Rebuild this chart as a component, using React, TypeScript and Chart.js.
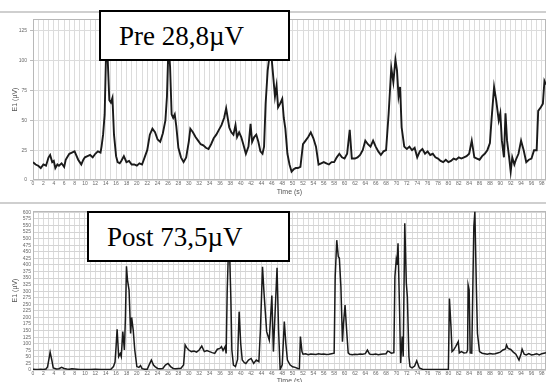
import React, { useEffect, useRef } from "react";
import { Chart, registerables } from "chart.js";

Chart.register(...registerables);

// ---------- Data ----------
// Pre recording: time (s) and E1 amplitude (µV)
const preTime = [
  0, 0.5, 1, 1.5, 2, 2.5, 3, 3.3, 3.7, 4, 4.3, 4.7, 5, 5.5, 6, 6.3, 6.7, 7, 7.5, 8,
  8.3, 8.7, 9, 9.3, 9.7, 10, 10.5, 11, 11.5, 12, 12.5, 13, 13.2, 13.5, 13.8, 14.1, 14.4, 14.7, 15, 15.3,
  15.6, 16, 16.3, 16.7, 17, 17.5, 18, 18.5, 19, 19.5, 20, 20.5, 21, 21.5, 22, 22.5, 23, 23.5, 24, 24.5,
  25, 25.5, 25.8, 26.1, 26.4, 26.7, 27, 27.3, 27.6, 28, 28.5, 29, 29.5, 30, 30.3, 30.8, 31.3, 31.8, 32.3, 32.8,
  33.3, 33.8, 34.3, 34.8, 35.3, 35.8, 36.3, 36.8, 37.2, 37.5, 37.8, 38.2, 38.6, 39, 39.3, 39.7, 40.1, 40.5, 41, 41.5,
  41.9, 42.2, 42.6, 43, 43.4, 43.8, 44.2, 44.5, 44.8, 45.2, 45.6, 46, 46.3, 46.6, 46.9, 47.2, 47.6, 48, 48.3, 48.6,
  49, 49.4, 49.8, 50.2, 50.6, 51, 51.5, 52, 52.5, 53, 53.5, 54, 54.5, 55, 55.5, 56, 56.5, 57, 57.5, 58,
  58.5, 59, 59.5, 60, 60.5, 61, 61.4, 62, 62.5, 63, 63.5, 64, 64.5, 65, 65.5, 66, 66.5, 67, 67.5, 68,
  68.5, 69, 69.4, 69.8, 70.1, 70.4, 70.7, 71, 71.5, 72, 72.5, 73, 73.5, 74, 74.5, 75, 75.5, 76, 76.5, 77,
  77.5, 78, 78.5, 79, 79.5, 80, 80.5, 81, 81.5, 82, 82.5, 83, 83.5, 84, 84.5, 85, 85.5, 86, 86.5, 87,
  87.5, 88, 88.3, 88.8, 89.2, 89.7, 90, 90.3, 90.7, 91, 91.3, 91.7, 92, 92.3, 92.7, 93, 93.5, 94, 94.5, 95,
  95.5, 96, 96.5, 97, 97.3, 97.8, 98.2, 98.5, 98.8,
];
const preValue = [
  15, 13, 12, 10, 13, 12, 19, 21, 15, 16, 10, 13, 12, 14, 11, 17, 20, 22, 23, 24,
  21, 17, 15, 13, 17, 19, 20, 21, 19, 22, 24, 23, 28, 38, 55, 112, 100, 67, 65, 69,
  38, 20, 15, 14, 16, 20, 15, 16, 13, 13, 12, 14, 13, 19, 25, 38, 43, 40, 34, 32,
  39, 50, 70, 115, 95, 55, 52, 55, 45, 27, 19, 15, 19, 32, 43, 40, 36, 33, 30, 29,
  27, 26, 30, 35, 38, 42, 46, 52, 60, 52, 44, 40, 38, 46, 36, 40, 36, 30, 22, 28,
  47, 32, 36, 38, 32, 24, 22, 28, 64, 92, 106, 100, 85, 70, 79, 61, 64, 68, 52, 43,
  22, 13, 7, 9, 10, 10, 11, 30, 33, 36, 40, 35, 28, 13, 14, 15, 14, 13, 15, 15,
  19, 22, 19, 18, 22, 42, 18, 18, 19, 21, 25, 33, 30, 28, 33, 28, 24, 21, 24, 25,
  56, 94, 82, 101, 92, 70, 78, 44, 28, 26, 28, 25, 27, 19, 24, 26, 22, 24, 21, 22,
  19, 18, 16, 15, 17, 15, 16, 18, 17, 19, 18, 19, 20, 22, 33, 19, 18, 17, 20, 22,
  25, 31, 50, 78, 67, 50, 56, 33, 19, 56, 33, 19, 7, 19, 13, 17, 22, 33, 25, 15,
  17, 18, 25, 25, 58, 61, 64, 83, 80,
];

// Post recording: time (s) and E1 amplitude (µV)
const postTime = [
  0, 0.5, 1, 1.5, 2, 2.5, 2.8, 3.1, 3.3, 3.6, 3.9, 4.5, 5, 5.5, 6, 6.5, 7, 7.5, 8, 8.5,
  9, 10, 11, 12, 13, 14, 15, 15.5, 15.8, 16, 16.2, 16.5, 16.8, 17, 17.3, 17.6, 17.8, 18, 18.2, 18.5,
  18.8, 19, 19.3, 19.6, 20, 20.4, 20.7, 21, 21.5, 22, 22.5, 22.8, 23.2, 23.5, 24, 24.5, 25, 25.5, 26, 26.5,
  27, 27.5, 28, 28.5, 29, 29.3, 29.6, 30, 30.5, 31, 31.5, 32, 32.5, 33, 33.5, 34, 34.5, 35, 35.5, 36,
  36.3, 36.6, 37, 37.2, 37.4, 37.6, 37.9, 38.1, 38.3, 38.6, 39, 39.4, 39.7, 40, 40.3, 40.7, 41, 41.5, 42, 42.5,
  43, 43.5, 43.8, 44.2, 44.5, 45, 45.5, 46, 46.3, 47, 47.3, 47.6, 48, 48.4, 48.7, 49, 49.5, 50, 50.5, 51,
  51.3, 51.5, 51.8, 52, 52.5, 53, 53.5, 54, 54.5, 55, 55.5, 56, 56.5, 57, 57.5, 58, 58.2, 58.5, 58.8, 59,
  59.3, 59.6, 59.8, 60.1, 60.4, 60.7, 61, 61.5, 62, 62.5, 63, 63.5, 64, 64.4, 64.8, 65, 65.5, 66, 66.5, 67,
  67.5, 68, 68.3, 68.6, 69, 69.5, 69.7, 69.95, 70.1, 70.3, 70.6, 70.8, 71.1, 71.3, 71.6, 71.9, 72.1, 72.4, 72.6, 73,
  73.5, 73.9, 74.4, 75, 76, 77, 78, 79, 80, 80.2, 80.5, 80.7, 81, 81.4, 81.9, 82.1, 82.5, 83, 83.5, 83.7,
  83.8, 84, 84.2, 84.5, 84.9, 85.1, 85.4, 85.6, 86, 86.5, 87, 87.5, 88, 88.5, 89, 89.5, 90, 90.5, 91, 91.2,
  91.5, 92, 92.5, 93, 93.6, 94, 94.2, 94.6, 95, 95.5, 96, 96.5, 97, 97.5, 98, 98.8,
];
const postValue = [
  3, 2, 2, 3, 2, 4, 12, 45, 68, 40, 8, 4, 5, 10, 6, 4, 3, 5, 4, 3,
  2, 2, 2, 3, 2, 2, 3, 13, 30, 89, 155, 51, 63, 51, 146, 76, 200, 395, 342, 304,
  139, 200, 152, 76, 13, 10, 17, 5, 3, 3, 25, 38, 19, 13, 6, 5, 6, 19, 25, 13,
  6, 5, 6, 7, 19, 95, 85, 76, 70, 72, 68, 76, 91, 70, 74, 70, 66, 63, 79, 82,
  89, 74, 89, 63, 300, 430, 420, 279, 76, 19, 13, 40, 222, 101, 38, 28, 25, 38, 44, 25,
  38, 32, 152, 393, 291, 146, 114, 283, 70, 389, 150, 2, 20, 184, 100, 38, 20, 12, 10, 6,
  5, 127, 70, 60, 62, 58, 61, 60, 59, 62, 60, 61, 59, 60, 62, 64, 355, 494, 431, 426,
  317, 108, 178, 247, 152, 65, 60, 58, 60, 59, 61, 60, 62, 76, 61, 60, 59, 61, 58, 60,
  61, 62, 72, 70, 64, 66, 355, 418, 400, 482, 228, 27, 127, 51, 558, 330, 279, 51, 13, 8,
  15, 35, 8, 3, 2, 2, 2, 2, 3, 272, 165, 70, 76, 89, 108, 65, 70, 65, 66, 76,
  323, 304, 65, 64, 545, 602, 304, 139, 70, 64, 62, 60, 63, 61, 62, 65, 68, 76, 80, 95,
  82, 78, 68, 60, 38, 62, 79, 60, 57, 62, 57, 59, 62, 57, 62, 66,
];

const xMin = 0;
const xMax = 98.8;
const xStep = 1;
const xLabelEvery = 2;
const preYMax = 135;
const preYStep = 25;
const postYMax = 605;
const postYStep = 25;
const yTitle = "E1 (µV)";
const xTitle = "Time (s)";
const preLabel = "Pre 28,8µV";
const postLabel = "Post 73,5µV";

const framePlugin = {
  id: "frame",
  beforeDatasetsDraw(chart: any) {
    const { ctx, chartArea } = chart;
    const { left, top, right, bottom } = chartArea;
    ctx.save();
    ctx.strokeStyle = "#b8b8b8";
    ctx.lineWidth = 1;
    ctx.strokeRect(left + 0.5, top + 0.5, right - left - 1, bottom - top - 1);
    ctx.restore();
  },
};

type PanelProps = {
  times: number[];
  values: number[];
  yMax: number;
  yStep: number;
  height: number;
  padTop: number;
  lineWidth: number;
  yTickLen: number;
  yTickPad: number;
  xTitlePad: number;
  hGridColor: string;
  top: number;
};

function Panel(p: PanelProps) {
  const ref = useRef<HTMLCanvasElement | null>(null);
  useEffect(() => {
    if (!ref.current) return;
    const data = p.times.map((t, i) => ({ x: t, y: p.values[i] }));
    const tickFont = { family: "'Liberation Sans', Arial, sans-serif", size: 5 };
    const titleFont = { family: "'Liberation Sans', Arial, sans-serif", size: 7 };
    const chart = new Chart(ref.current, {
      type: "line",
      data: {
        datasets: [
          {
            data,
            borderColor: "#1a1a1a",
            borderWidth: p.lineWidth,
            pointRadius: 0,
            tension: 0,
            fill: false,
          },
        ],
      },
      options: {
        animation: false,
        responsive: false,
        events: [],
        layout: { padding: { top: p.padTop, right: 0, left: 0, bottom: 0 } },
        plugins: { legend: { display: false }, tooltip: { enabled: false }, title: { display: false } },
        scales: {
          x: {
            type: "linear",
            min: xMin,
            max: xMax,
            afterFit: (s: any) => {
              s.height = 17;
            },
            ticks: {
              stepSize: xStep,
              autoSkip: false,
              maxRotation: 0,
              includeBounds: false,
              padding: 1,
              color: "#6a6a6a",
              font: tickFont,
              callback: (v: any) => (Number(v) % xLabelEvery === 0 ? String(v) : ""),
            },
            grid: { color: "#dcdcdc", lineWidth: 1, drawTicks: false },
            border: { display: false },
            title: {
              display: true,
              text: xTitle,
              color: "#555",
              font: titleFont,
              padding: { top: 0, bottom: p.xTitlePad },
            },
          },
          y: {
            type: "linear",
            min: 0,
            max: p.yMax,
            afterFit: (s: any) => {
              s.width = 33;
            },
            ticks: {
              stepSize: p.yStep,
              autoSkip: false,
              includeBounds: false,
              padding: p.yTickPad,
              color: "#6a6a6a",
              font: tickFont,
            },
            grid: {
              color: p.hGridColor,
              lineWidth: 1,
              drawTicks: p.yTickLen > 0,
              tickLength: p.yTickLen,
              tickColor: "#bbbbbb",
            },
            border: { display: false },
            title: {
              display: true,
              text: yTitle,
              color: "#555",
              font: titleFont,
              padding: { top: 11, bottom: 0 },
            },
          },
        },
      },
      plugins: [framePlugin],
    } as any);
    return () => chart.destroy();
  }, []);
  return (
    <canvas
      ref={ref}
      width={546}
      height={p.height}
      style={{ position: "absolute", left: 0, top: p.top, width: 546, height: p.height, display: "block" }}
    />
  );
}

function LabelBox(props: { text: string; left: number; top: number; width: number; height: number }) {
  return (
    <div
      style={{
        position: "absolute",
        left: props.left,
        top: props.top,
        width: props.width,
        height: props.height,
        boxSizing: "border-box",
        border: "2px solid #000",
        background: "#fff",
      }}
    >
      <span
        style={{
          position: "absolute",
          left: 18,
          top: 11,
          fontFamily: "'Liberation Serif', 'Times New Roman', serif",
          fontSize: 27,
          lineHeight: "27px",
          color: "#000",
          whiteSpace: "nowrap",
        }}
      >
        {props.text}
      </span>
    </div>
  );
}

export default function App() {
  return (
    <div
      style={{
        position: "fixed",
        left: 0,
        top: 0,
        width: 546,
        height: 382,
        overflow: "hidden",
        background: "#fff",
      }}
    >
      <Panel
        times={preTime}
        values={preValue}
        yMax={preYMax}
        yStep={preYStep}
        height={197}
        padTop={19}
        lineWidth={1.9}
        yTickLen={3}
        yTickPad={3}
        xTitlePad={1}
        hGridColor="#dcdcdc"
        top={0}
      />
      <Panel
        times={postTime}
        values={postValue}
        yMax={postYMax}
        yStep={postYStep}
        height={190}
        padTop={14}
        lineWidth={1.5}
        yTickLen={0}
        yTickPad={2}
        xTitlePad={2}
        hGridColor="#d4d4d4"
        top={197}
      />
      <div style={{ position: "absolute", left: 0, top: 11, width: 546, height: 2, background: "#cfcfcf" }} />
      <div style={{ position: "absolute", left: 0, top: 202, width: 546, height: 2, background: "#cfcfcf" }} />
      <LabelBox text={preLabel} left={99} top={10} width={191} height={51} />
      <LabelBox text={postLabel} left={87} top={211} width={203} height={51} />
    </div>
  );
}
